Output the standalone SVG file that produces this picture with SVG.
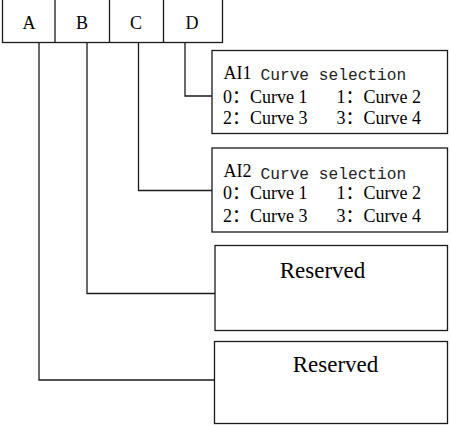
<svg xmlns="http://www.w3.org/2000/svg" width="451" height="427" viewBox="0 0 451 427">
<style>
.box{fill:#fff;stroke:#1a1a1a;stroke-width:1.3}
.ln{fill:none;stroke:#1a1a1a;stroke-width:1.3}
.t{font-family:"Liberation Serif","Noto Sans CJK SC",serif;font-size:18px;fill:#000}
.r{font-family:"Liberation Serif",serif;font-size:23px;fill:#000;text-anchor:middle}
.m{font-family:"Liberation Mono","DejaVu Sans Mono",monospace;font-size:16.2px;fill:#222}
.c{text-anchor:middle}
</style>
<rect width="451" height="427" fill="#fff"/>
<g id="header">
<rect class="box" x="2.5" y="-2" width="220" height="44.5"/>
<line class="ln" x1="55" y1="0" x2="55" y2="42.5"/>
<line class="ln" x1="109.5" y1="0" x2="109.5" y2="42.5"/>
<line class="ln" x1="163.5" y1="0" x2="163.5" y2="42.5"/>
<text class="t c" x="29" y="29">A</text>
<text class="t c" x="82" y="29">B</text>
<text class="t c" x="136" y="29">C</text>
<text class="t c" x="192" y="29">D</text>
</g>
<g id="connectors">
<polyline class="ln" points="39,42.5 39,380 214,380"/>
<polyline class="ln" points="87,42.5 87,293.5 215,293.5"/>
<polyline class="ln" points="138.5,42.5 138.5,190.5 212,190.5"/>
<polyline class="ln" points="185,42.5 185,96 212,96"/>
</g>
<g id="ai1">
<rect class="box" x="212" y="50.5" width="235.5" height="83"/>
<text class="t" x="223.5" y="78.5">AI1</text>
<text class="m" x="260.5" y="80">Curve selection</text>
<text class="t" x="223" y="103">0：Curve 1</text>
<text class="t" x="336.5" y="103">1：Curve 2</text>
<text class="t" x="223" y="124">2：Curve 3</text>
<text class="t" x="336.5" y="124">3：Curve 4</text>
</g>
<g id="ai2">
<rect class="box" x="212" y="148" width="235.5" height="84"/>
<text class="t" x="223.5" y="176.5">AI2</text>
<text class="m" x="260.5" y="178.5">Curve selection</text>
<text class="t" x="223" y="199">0：Curve 1</text>
<text class="t" x="336.5" y="199">1：Curve 2</text>
<text class="t" x="223" y="222">2：Curve 3</text>
<text class="t" x="336.5" y="222">3：Curve 4</text>
</g>
<g id="reserved1">
<rect class="box" x="215" y="245.5" width="232.5" height="85"/>
<text class="r" x="322.5" y="278">Reserved</text>
</g>
<g id="reserved2">
<rect class="box" x="214.5" y="341.5" width="233" height="82"/>
<text class="r" x="335.5" y="372">Reserved</text>
</g>
</svg>
